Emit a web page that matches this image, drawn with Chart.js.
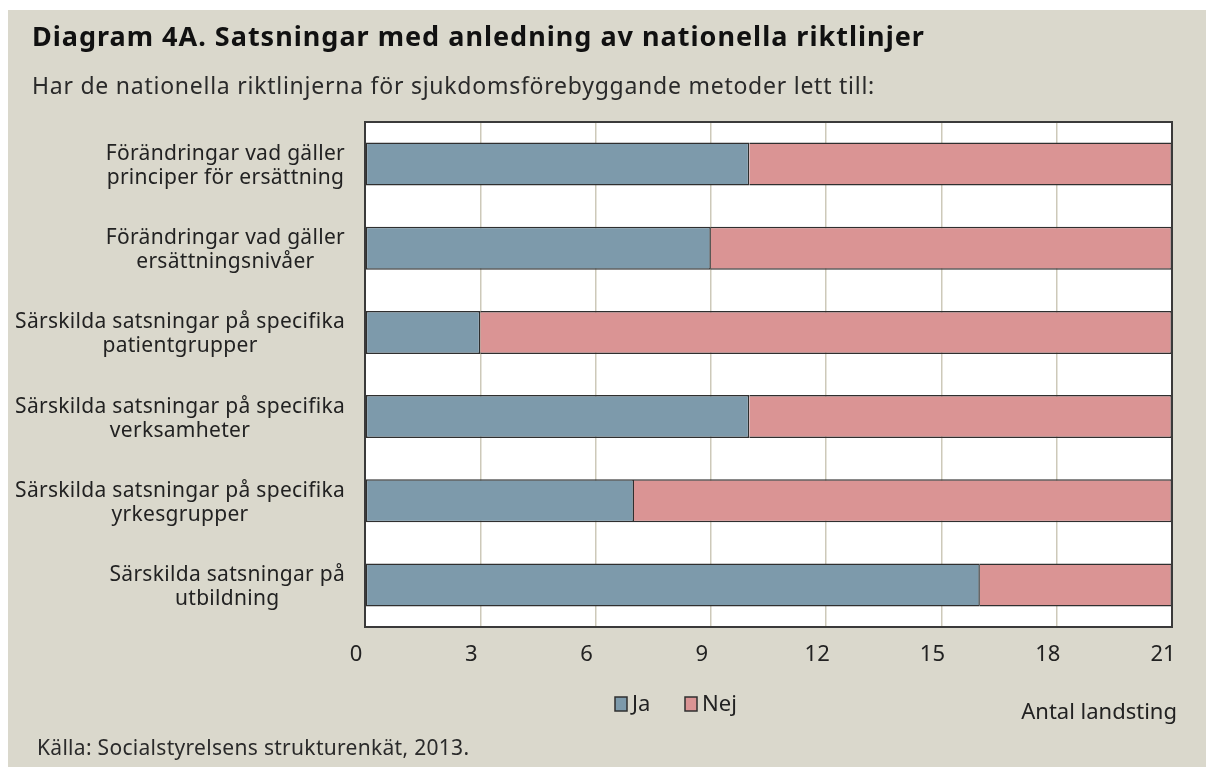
<!DOCTYPE html>
<html lang="sv">
<head>
<meta charset="utf-8">
<title>Diagram 4A</title>
<script src="https://cdn.jsdelivr.net/npm/chart.js@4/dist/chart.umd.min.js"></script>
<style>
  html, body { margin: 0; padding: 0; background: #ffffff; }
  body { width: 1206px; height: 769px; position: relative; overflow: hidden; font-family: "Noto Sans", Lato, sans-serif; color: #1e1e1e; }
  #frame { position: absolute; left: 8px; top: 10px; width: 1198px; height: 757px; background: #dad8cc; }
  #chart-wrap { position: absolute; left: 0; top: 0; width: 1206px; height: 769px; }
  .txt { position: absolute; white-space: nowrap; line-height: 1.2; }
  #title { left: 32px; top: 20px; font-size: 27px; font-weight: 700; letter-spacing: 1px; color: #111; }
  #subtitle { left: 32px; top: 72px; font-size: 23px; letter-spacing: 0.75px; color: #2a2a2a; }
  #source { left: 37px; top: 735px; font-size: 21px; letter-spacing: 0.3px; color: #2a2a2a; }
</style>
</head>
<body>
<div id="frame"></div>
<div id="chart-wrap"><canvas id="chart" width="1206" height="769"></canvas></div>
<div class="txt" id="title">Diagram 4A. Satsningar med anledning av nationella riktlinjer</div>
<div class="txt" id="subtitle">Har de nationella riktlinjerna för sjukdomsförebyggande metoder lett till:</div>
<div class="txt" id="source">Källa: Socialstyrelsens strukturenkät, 2013.</div>

<script>
"use strict";

/* ─── Data ──────────────────────────────────────────────────── */

/* Category labels, one array of lines per bar */
const CATEGORIES = [
  ["Förändringar vad gäller", "principer för ersättning"],
  ["Förändringar vad gäller", "ersättningsnivåer"],
  ["Särskilda satsningar på specifika", "patientgrupper"],
  ["Särskilda satsningar på specifika", "verksamheter"],
  ["Särskilda satsningar på specifika", "yrkesgrupper"],
  ["Särskilda satsningar på", "utbildning"],
];

/* Number of county councils answering yes / no */
const JA = [10, 9, 3, 10, 7, 16];
const NEJ = [11, 12, 18, 11, 14, 5];

/* Series names */
const SERIES = ["Ja", "Nej"];

/* x axis range and tick step */
const X_MAX = 21;
const X_STEP = 3;

const AXIS_TITLE = "Antal landsting";

/* ─── Styles ────────────────────────────────────────────────── */

const COLOR_JA = "#7d9aab";
const COLOR_NEJ = "#da9494";
const EDGE = "#2f2f2f";
const TEXT = "#222222";
const FONT = "'Noto Sans', Lato, sans-serif";

/* ─── Plugin: plot frame, category labels, legend, axis title ─ */

const decorPlugin = {
  id: "decor",
  beforeDraw: function (chart) {
    const a = chart.chartArea;
    const ctx = chart.ctx;
    ctx.save();
    ctx.fillStyle = "#ffffff";
    ctx.fillRect(a.left, a.top, a.right - a.left, a.bottom - a.top);
    ctx.restore();
  },
  afterDraw: function (chart) {
    const a = chart.chartArea;
    const ctx = chart.ctx;
    const yScale = chart.scales.y;

    ctx.save();

    /* Frame round the plot area */
    ctx.strokeStyle = "#3a3a3a";
    ctx.lineWidth = 2;
    ctx.strokeRect(a.left, a.top, a.right - a.left, a.bottom - a.top);

    /* Category labels: block right aligned, lines centred within it */
    ctx.font = "21px " + FONT;
    ctx.letterSpacing = "0.3px";
    ctx.fillStyle = TEXT;
    ctx.textAlign = "center";
    ctx.textBaseline = "alphabetic";
    chart.data.labels.forEach(function (lines, i) {
      const y = yScale.getPixelForTick(i);
      const w = Math.max.apply(null, lines.map(function (l) { return ctx.measureText(l).width; }));
      const cx = a.left - 20 - w / 2;
      ctx.fillText(lines[0], cx, y - 4);
      ctx.fillText(lines[1], cx, y + 20);
    });
    ctx.letterSpacing = "0px";

    /* Legend */
    const legendX = [615, 685];
    chart.data.datasets.forEach(function (ds, i) {
      const x = legendX[i];
      ctx.fillStyle = ds.backgroundColor;
      ctx.fillRect(x, 697, 12, 14);
      ctx.strokeStyle = EDGE;
      ctx.lineWidth = 1.5;
      ctx.strokeRect(x, 697, 12, 14);
      ctx.fillStyle = TEXT;
      ctx.font = "22px " + FONT;
      ctx.textAlign = "left";
      ctx.fillText(ds.label, x + 17, 711);
    });

    /* Axis title */
    ctx.font = "22px " + FONT;
    ctx.textAlign = "right";
    ctx.fillStyle = TEXT;
    ctx.fillText(AXIS_TITLE, 1177, 719);

    ctx.restore();
  },
};

/* ─── Chart ─────────────────────────────────────────────────── */

const chart = new Chart(document.getElementById("chart"), {
  type: "bar",
  data: {
    labels: CATEGORIES,
    datasets: [
      {
        label: SERIES[0],
        data: JA,
        backgroundColor: COLOR_JA,
        borderColor: EDGE,
        borderWidth: 1.5,
        borderSkipped: false,
      },
      {
        label: SERIES[1],
        data: NEJ,
        backgroundColor: COLOR_NEJ,
        borderColor: EDGE,
        borderWidth: 1.5,
        borderSkipped: "left",
      },
    ],
  },
  options: {
    indexAxis: "y",
    responsive: false,
    animation: false,
    devicePixelRatio: 1,
    categoryPercentage: 1,
    barPercentage: 0.51,
    layout: { padding: { top: 122, right: 34, bottom: 82, left: 0 } },
    scales: {
      x: {
        stacked: true,
        min: 0,
        max: X_MAX,
        afterFit: function (scale) { scale.height = 60; },
        ticks: {
          stepSize: X_STEP,
          color: TEXT,
          font: { family: FONT, size: 22 },
          padding: 15,
          labelOffset: -9,
          maxRotation: 0,
        },
        grid: { color: "#cdc9b9", lineWidth: 1.5, drawTicks: false },
        border: { display: false },
      },
      y: {
        stacked: true,
        afterFit: function (scale) { scale.width = 365; },
        ticks: { display: false },
        grid: { display: false },
        border: { display: false },
      },
    },
    plugins: {
      legend: { display: false },
      tooltip: { enabled: false },
    },
  },
  plugins: [decorPlugin],
});
</script>
</body>
</html>
